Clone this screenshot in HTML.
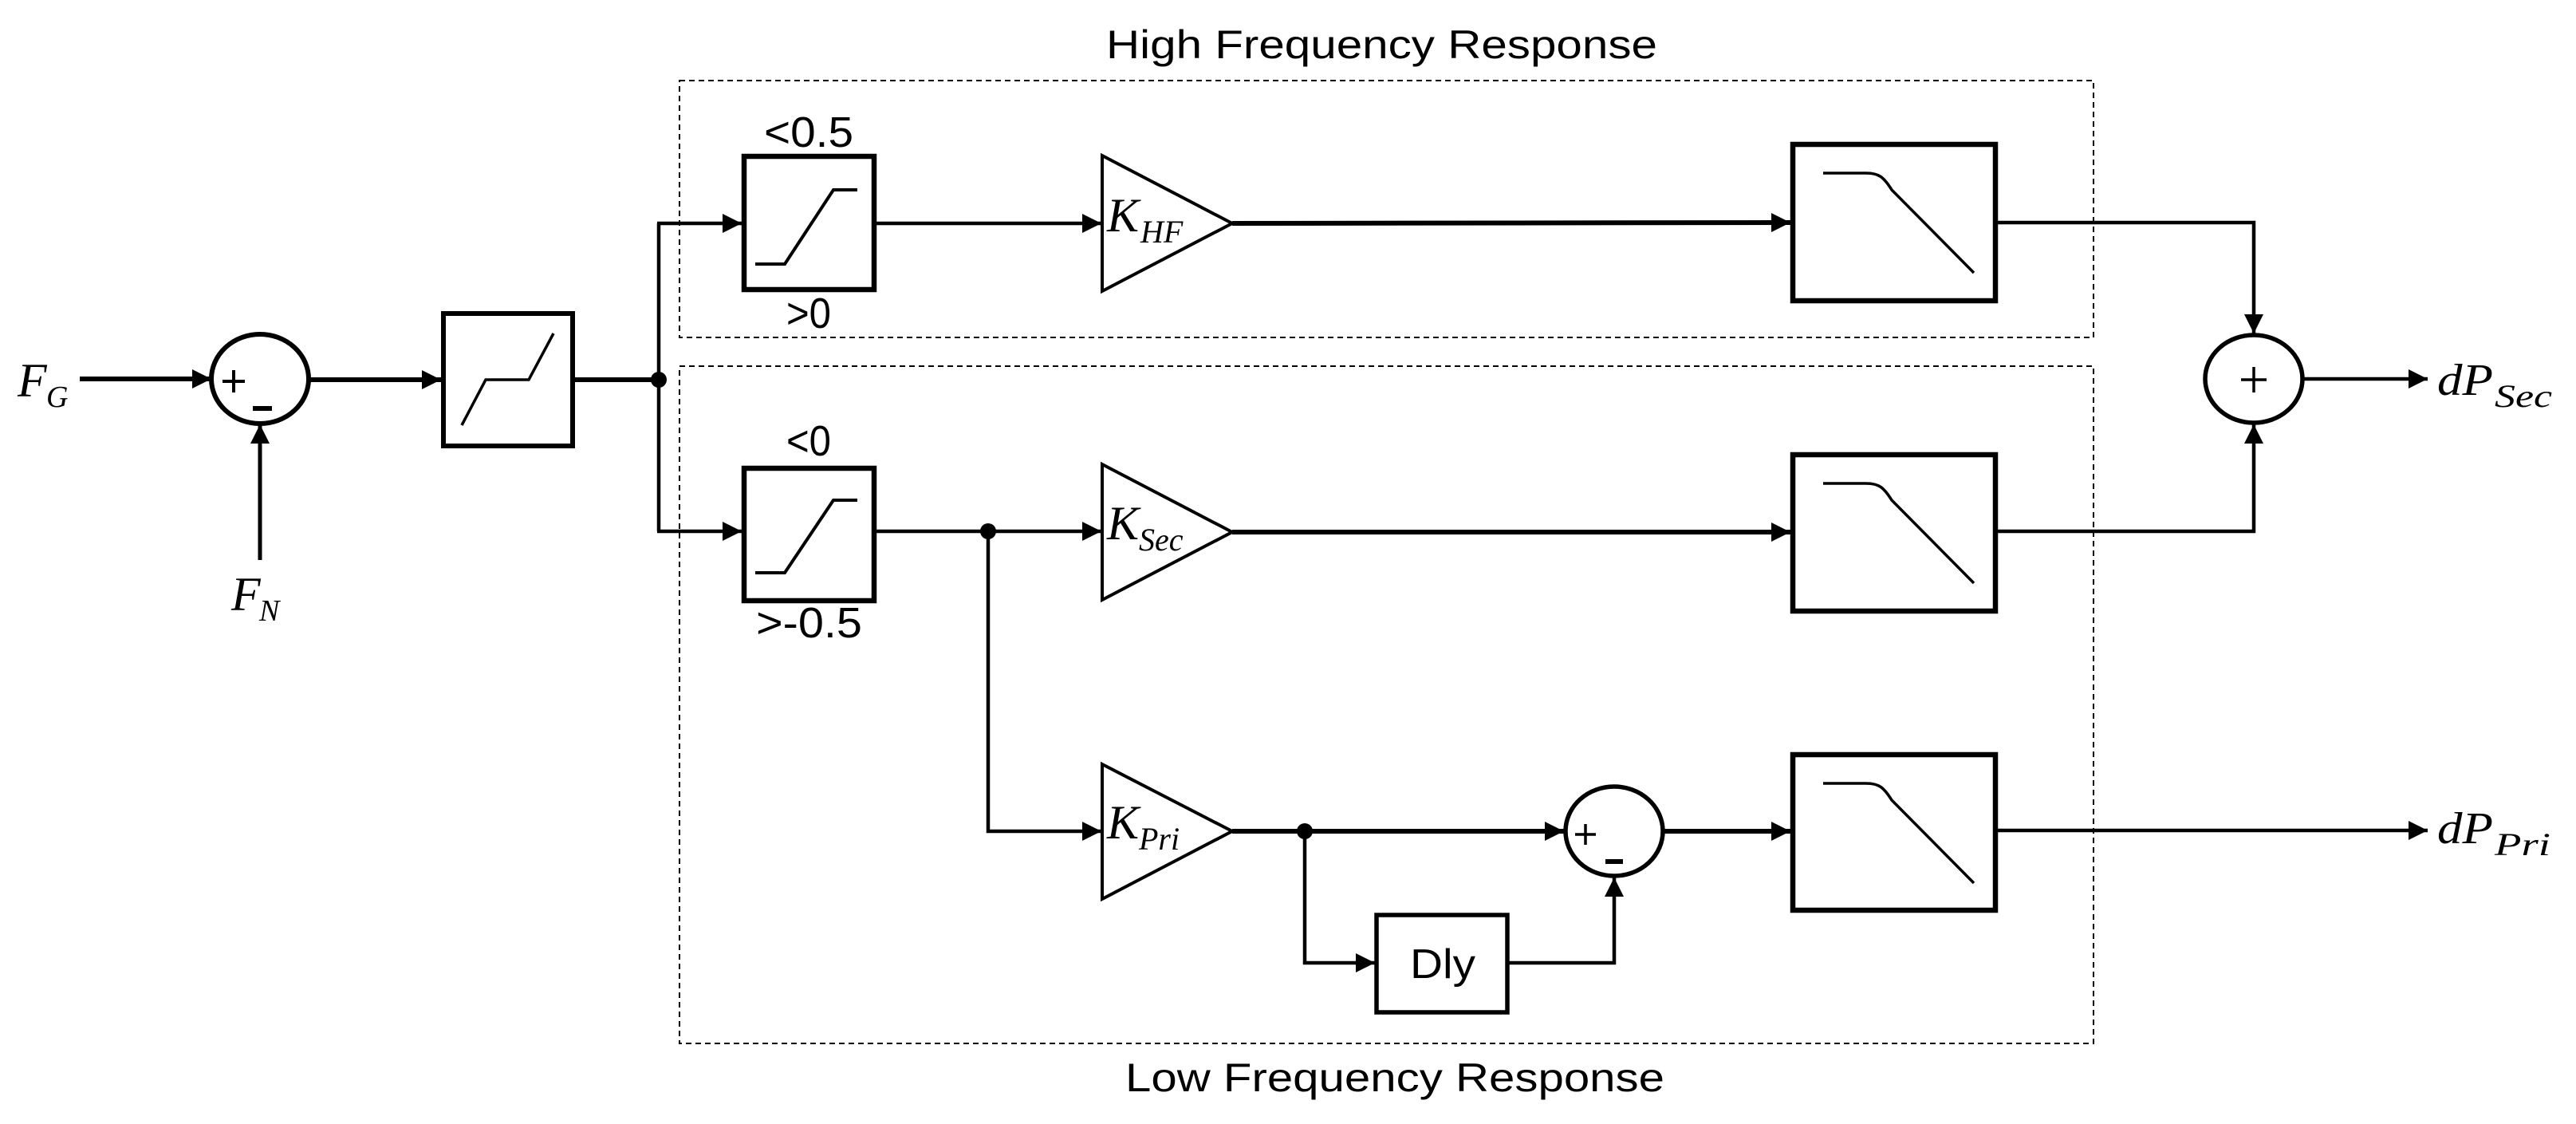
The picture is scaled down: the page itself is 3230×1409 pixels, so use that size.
<!DOCTYPE html>
<html><head><meta charset="utf-8"><style>html,body{margin:0;padding:0;background:#fff}svg{display:block}</style></head>
<body>
<svg width="3230" height="1409" viewBox="0 0 3230 1409" xmlns="http://www.w3.org/2000/svg">
<defs>
<marker id="a" viewBox="0 0 10 10" refX="10" refY="5" markerWidth="30" markerHeight="24" markerUnits="userSpaceOnUse" orient="auto"><path d="M0,0 L10,5 L0,10 z" fill="#000"/></marker>
</defs>
<g font-family="Liberation Sans, sans-serif" fill="#000">
<text x="1387" y="73" font-size="50" textLength="691" lengthAdjust="spacingAndGlyphs">High Frequency Response</text>
<text x="1411" y="1368" font-size="50" textLength="676" lengthAdjust="spacingAndGlyphs">Low Frequency Response</text>
<text x="958" y="184" font-size="54" textLength="112" lengthAdjust="spacingAndGlyphs">&lt;0.5</text>
<text x="986" y="411" font-size="54" textLength="56" lengthAdjust="spacingAndGlyphs">&gt;0</text>
<text x="986" y="571" font-size="54" textLength="56" lengthAdjust="spacingAndGlyphs">&lt;0</text>
<text x="948" y="799" font-size="54" textLength="133" lengthAdjust="spacingAndGlyphs">&gt;-0.5</text>
<text x="1768" y="1226" font-size="52" textLength="82" lengthAdjust="spacingAndGlyphs">Dly</text>
</g>
<g font-family="Liberation Serif, serif" font-style="italic" fill="#000">
<text x="22" y="497" font-size="60">F</text><text x="58" y="510" font-size="38">G</text>
<text x="290" y="765" font-size="60">F</text><text x="325" y="778" font-size="38">N</text>
<text x="1388" y="290" font-size="60">K</text><text x="1430" y="304" font-size="40">HF</text>
<text x="1388" y="676" font-size="60">K</text><text x="1428" y="690" font-size="40">Sec</text>
<text x="1388" y="1051" font-size="60">K</text><text x="1428" y="1065" font-size="40">Pri</text>
<text x="3056" y="495" font-size="56" textLength="70" lengthAdjust="spacingAndGlyphs">dP</text><text x="3128" y="510" font-size="40" textLength="72" lengthAdjust="spacingAndGlyphs">Sec</text>
<text x="3056" y="1057" font-size="56" textLength="70" lengthAdjust="spacingAndGlyphs">dP</text><text x="3128" y="1072" font-size="40" textLength="70" lengthAdjust="spacingAndGlyphs">Pri</text>
</g>
<g fill="none" stroke="#000" stroke-width="2" stroke-dasharray="7,5">
<rect x="852" y="101" width="1773" height="322"/>
<rect x="852" y="459" width="1773" height="849"/>
</g>
<g fill="none" stroke="#000">
<ellipse cx="326" cy="475" rx="61" ry="56" stroke-width="6"/>
<ellipse cx="2024" cy="1042" rx="61" ry="56" stroke-width="5.5"/>
<ellipse cx="2826" cy="475" rx="61" ry="55" stroke-width="5.5"/>
<rect x="556" y="393" width="162" height="166" stroke-width="6"/>
<rect x="933" y="196" width="163" height="167" stroke-width="6.5"/>
<rect x="933" y="587" width="163" height="166" stroke-width="6.5"/>
<rect x="2248" y="181" width="254" height="196" stroke-width="6.5"/>
<rect x="2248" y="570" width="254" height="196" stroke-width="6.5"/>
<rect x="2248" y="946" width="254" height="195" stroke-width="6.5"/>
<rect x="1726" y="1147" width="164" height="122" stroke-width="5.5"/>
<path d="M1382,195 L1545,280 L1382,365 Z" stroke-width="4"/>
<path d="M1382,582 L1545,667 L1382,752 Z" stroke-width="4"/>
<path d="M1382,958 L1545,1042 L1382,1127 Z" stroke-width="4"/>
<path d="M579,533 L609,476 L663,476 L694,418" stroke-width="3.5"/>
<path d="M947,331 L984,331 L1045,238 L1075,238" stroke-width="4"/>
<path d="M947,718 L984,718 L1045,627 L1075,627" stroke-width="4"/>
</g>
<g fill="none" stroke="#000" stroke-width="3.5">
<path d="M2286,217 L2340,217 C2356,217 2362,222 2372,238 L2475,342"/>
<path d="M2286,606 L2340,606 C2356,606 2362,611 2372,627 L2475,731"/>
<path d="M2286,982 L2340,982 C2356,982 2362,987 2372,1003 L2475,1107"/>
</g>
<g fill="none" stroke="#000" stroke-width="6">
<line x1="100" y1="475" x2="265" y2="475" marker-end="url(#a)"/>
<line x1="326" y1="702" x2="326" y2="532" stroke-width="5" marker-end="url(#a)"/>
<line x1="388" y1="476" x2="553" y2="476" marker-end="url(#a)"/>
<line x1="720" y1="476" x2="826" y2="476"/>
<polyline points="826,280 826,666" stroke-width="4.5"/>
<line x1="824" y1="280" x2="930" y2="280" stroke-width="4.5" marker-end="url(#a)"/>
<line x1="824" y1="666" x2="930" y2="666" stroke-width="4.5" marker-end="url(#a)"/>
<line x1="1099" y1="280" x2="1381" y2="280" stroke-width="4.5" marker-end="url(#a)"/>
<line x1="1545" y1="280" x2="2245" y2="279" marker-end="url(#a)"/>
<polyline points="2504,279 2826,279 2826,418" stroke-width="4.5" marker-end="url(#a)"/>
<line x1="1099" y1="666" x2="1381" y2="666" stroke-width="4.5" marker-end="url(#a)"/>
<line x1="1545" y1="667" x2="2245" y2="667" marker-end="url(#a)"/>
<polyline points="2504,666 2826,666 2826,532" stroke-width="4.5" marker-end="url(#a)"/>
<polyline points="1239,666 1239,1042 1381,1042" stroke-width="4.5" marker-end="url(#a)"/>
<line x1="1545" y1="1042" x2="1961" y2="1042" marker-end="url(#a)"/>
<polyline points="1636,1042 1636,1207 1724,1207" stroke-width="4.5" marker-end="url(#a)"/>
<polyline points="1892,1207 2024,1207 2024,1100" stroke-width="4.5" marker-end="url(#a)"/>
<line x1="2087" y1="1042" x2="2245" y2="1042" marker-end="url(#a)"/>
<line x1="2504" y1="1041" x2="3044" y2="1041" stroke-width="4.5" marker-end="url(#a)"/>
<line x1="2889" y1="475" x2="3044" y2="475" stroke-width="4.5" marker-end="url(#a)"/>
</g>
<g fill="#000">
<circle cx="826" cy="476" r="10"/>
<circle cx="1239" cy="666" r="10"/>
<circle cx="1636" cy="1042" r="10"/>
</g>
<g stroke="#000">
<path d="M279,478 h28 M293,464 v28" stroke-width="4"/>
<path d="M317,512 h24" stroke-width="6"/>
<path d="M1975,1046 h26 M1988,1033 v26" stroke-width="3.5"/>
<path d="M2013,1080 h22" stroke-width="6"/>
<path d="M2810,476 h32 M2826,460 v32" stroke-width="3.5"/>
</g>
</svg>
</body></html>
